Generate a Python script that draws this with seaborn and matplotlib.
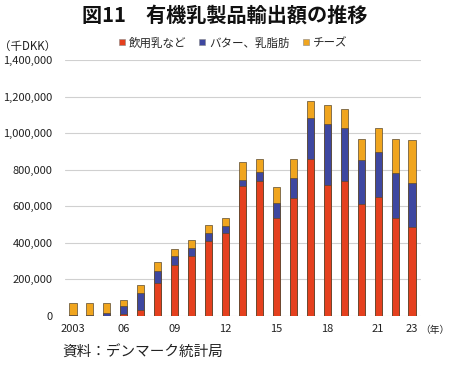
import matplotlib
matplotlib.use("Agg")
import matplotlib.pyplot as plt
import seaborn as sns
import numpy as np
import pandas as pd
from matplotlib.lines import Line2D

years = list(range(2003, 2024))
drinking_milk = [0, 0, 0, 9000, 33000, 181000, 280000, 327000, 408000, 452000, 710000,
                 738000, 537000, 643000, 860000, 719000, 741000, 614000, 650000, 535000, 488000]
butter = [7000, 7000, 14000, 44000, 95000, 65000, 46000, 43000, 44000, 39000, 35000,
          48000, 80000, 109000, 222000, 332000, 288000, 240000, 246000, 248000, 240000]
cheese = [65000, 63000, 58000, 32000, 40000, 52000, 42000, 47000, 48000, 44000, 95000,
          71000, 86000, 104000, 95000, 102000, 105000, 115000, 131000, 184000, 235000]
series_names = ["飲用乳など", "バター、乳脂肪", "チーズ"]
xtick_labels = {2003: "2003", 2006: "06", 2009: "09", 2012: "12", 2015: "15",
                2018: "18", 2021: "21", 2023: "23"}
yticks = [0, 200000, 400000, 600000, 800000, 1000000, 1200000, 1400000]

colors = ["#E5401E", "#3E47A0", "#F0A51E"]

sns.set_theme(style="white")
plt.rcParams['font.family'] = ['Noto Sans CJK JP', 'DejaVu Sans']

df = pd.DataFrame({"year": [str(y) for y in years],
                   "milk": drinking_milk, "butter": butter, "cheese": cheese})
df["c2"] = df["milk"] + df["butter"]
df["c3"] = df["c2"] + df["cheese"]

fig = plt.figure(figsize=(4.5, 3.66), dpi=100)
ax = fig.add_axes([65/450, 1-316/366, (421-65)/450, (316-60)/366])

order = df["year"].tolist()
for col, c in zip(["c3", "c2", "milk"], colors[::-1]):
    sns.barplot(data=df, x="year", y=col, order=order, color=c, ax=ax,
                width=0.42, edgecolor="#5a4a30", linewidth=0.5, saturation=1)

ax.set_ylim(0, 1400000)
ax.set_xlim(-0.47, 20.53)
ax.set_yticks(yticks)
ax.set_yticklabels([f"{v:,}" for v in yticks], fontsize=8, color="#222222")
pos = [years.index(y) for y in xtick_labels]
ax.set_xticks(pos)
ax.set_xticklabels(list(xtick_labels.values()), fontsize=8, color="#222222")
ax.tick_params(axis="y", length=0, pad=9)
ax.tick_params(axis="x", length=0, pad=6)
ax.set_xlabel("")
ax.set_ylabel("")
for s in ax.spines.values():
    s.set_visible(False)
ax.yaxis.grid(True, color="#d0d0d0", linewidth=0.8)
ax.set_axisbelow(True)

fig.text(0.5, 1-15/366, "図11　有機乳製品輸出額の推移", ha="center", va="center",
         fontsize=14.5, fontweight="bold", color="#111111")
fig.text(28/450, 1-46/366, "（千DKK）", ha="center", va="center", fontsize=8.3, color="#222222")
fig.text(420/450, 1-330/366, "（年）", ha="left", va="center", fontsize=7, color="#222222")
fig.text(62/450, 1-353/366, "資料：デンマーク統計局", ha="left", va="center", fontsize=10.5, color="#222222")

handles = [Line2D([0], [0], marker="s", linestyle="none", markersize=5,
                  markerfacecolor=c, markeredgecolor="#888888", markeredgewidth=0.4)
           for c in colors]
fig.legend(handles, series_names, loc="center", bbox_to_anchor=(232/450, 1-43/366),
           ncol=3, frameon=False, fontsize=8.3, handlelength=0.8, handletextpad=0.2,
           columnspacing=1.0)

fig.savefig("out.png", dpi=100)
